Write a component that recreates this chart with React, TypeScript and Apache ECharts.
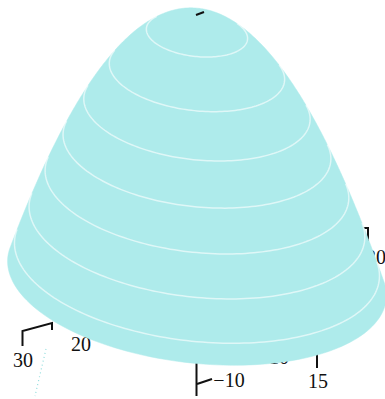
import React, { useEffect, useRef } from "react";
import * as echarts from "echarts";

// Paraboloid z = PEAK - (x² + y²) / SPREAD, cut off by a flat base at BASE_LEVEL
const PEAK = 15;
const SPREAD = 14;
const BASE_LEVEL = 1;
const contourLevels = [14, 12, 10, 8, 6, 4, 2];

// Axis tick labels (some sit behind the surface)
const tickLabels = ["30", "20", "\u221210", "10", "15", "20"];
const tickLabelPos: number[][] = [
  [23, 360],
  [81, 344],
  [229, 380],
  [279, 357],
  [318, 381],
  [376, 257],
];

// Camera: orthographic view from above, with a slight perspective-like shear
const SIN_ELEV = 0.45;
const Z_SCALE = 1.39;
const SHEAR = 0.09;

// View-plane window (x to the right, y downwards)
const VIEW_X = [-14.56, 13.9];
const VIEW_Y = [-1.11, 28.38];

const SURFACE = "#aeebeb";
const CONTOUR = "rgba(255,255,255,0.6)";

const radiusAt = (z: number) => Math.sqrt(Math.max(0, (PEAK - z) * SPREAD));

function project(r: number, phi: number, z: number): number[] {
  const vx = r * Math.cos(phi);
  const vy = (PEAK - z) * Z_SCALE + r * Math.sin(phi) * SIN_ELEV + SHEAR * vx;
  return [vx, vy];
}

// Outline of the solid: convex hull of every horizontal slice
function surfaceOutline(): number[][] {
  const pts: number[][] = [];
  const nz = 140;
  const nphi = 180;
  for (let i = 0; i <= nz; i++) {
    const z = PEAK - ((PEAK - BASE_LEVEL) * i) / nz;
    const r = radiusAt(z);
    for (let j = 0; j < nphi; j++) {
      pts.push(project(r, (2 * Math.PI * j) / nphi, z));
    }
  }
  pts.sort((a, b) => a[0] - b[0] || a[1] - b[1]);
  const cross = (o: number[], a: number[], b: number[]) =>
    (a[0] - o[0]) * (b[1] - o[1]) - (a[1] - o[1]) * (b[0] - o[0]);
  const lower: number[][] = [];
  for (const p of pts) {
    while (lower.length >= 2 && cross(lower[lower.length - 2], lower[lower.length - 1], p) <= 0) lower.pop();
    lower.push(p);
  }
  const upper: number[][] = [];
  for (let i = pts.length - 1; i >= 0; i--) {
    const p = pts[i];
    while (upper.length >= 2 && cross(upper[upper.length - 2], upper[upper.length - 1], p) <= 0) upper.pop();
    upper.push(p);
  }
  upper.pop();
  lower.pop();
  return lower.concat(upper);
}

// Front-facing part of a contour circle
function contourArc(z: number): number[][] {
  const r = radiusAt(z);
  const limit = (SIN_ELEV * SPREAD) / (2 * Z_SCALE);
  const out: number[][] = [];
  let a0 = 0;
  let a1 = 2 * Math.PI;
  if (limit < r) {
    const a = Math.asin(limit / r);
    a0 = -a;
    a1 = Math.PI + a;
  }
  const n = 120;
  for (let i = 0; i <= n; i++) {
    out.push(project(r, a0 + ((a1 - a0) * i) / n, z));
  }
  return out;
}

export default function App() {
  const ref = useRef<HTMLDivElement>(null);

  useEffect(() => {
    if (!ref.current) return;
    const chart = echarts.init(ref.current, null, { renderer: "svg" });
    const outline = surfaceOutline();

    const labelFont = '20px "Liberation Serif", "Times New Roman", serif';
    const labels = tickLabels.map((t, i) => ({
      type: "text",
      z: 1,
      silent: true,
      x: tickLabelPos[i][0],
      y: tickLabelPos[i][1],
      style: {
        text: t,
        font: labelFont,
        fill: "#111",
        textAlign: "center",
        textVerticalAlign: "middle",
      },
    }));

    const tickStyle = { stroke: "#111", lineWidth: 2, fill: "none" };

    chart.setOption({
      animation: false,
      backgroundColor: "#ffffff",
      grid: { left: 0, right: 0, top: 0, bottom: 0 },
      xAxis: { type: "value", min: VIEW_X[0], max: VIEW_X[1], show: false },
      yAxis: { type: "value", inverse: true, min: VIEW_Y[0], max: VIEW_Y[1], show: false },
      graphic: [
        ...labels,
        {
          type: "polyline",
          z: 1,
          silent: true,
          shape: { points: [[22.5, 346], [22.5, 331], [52, 323], [52, 330]] },
          style: tickStyle,
        },
        {
          type: "polyline",
          z: 1,
          silent: true,
          shape: { points: [[196.5, 350], [196.5, 396]] },
          style: tickStyle,
        },
        {
          type: "polyline",
          z: 1,
          silent: true,
          shape: { points: [[197, 384], [212, 379]] },
          style: tickStyle,
        },
        {
          type: "polyline",
          z: 1,
          silent: true,
          shape: { points: [[317, 345], [317, 368]] },
          style: tickStyle,
        },
        {
          type: "polyline",
          z: 1,
          silent: true,
          shape: { points: [[363, 228], [368, 228], [368, 243]] },
          style: tickStyle,
        },
        {
          type: "line",
          z: 1,
          silent: true,
          shape: { x1: 46, y1: 349, x2: 35, y2: 396 },
          style: { stroke: "#8fdcdc", lineWidth: 1.2, lineDash: [1, 3] },
        },
        {
          type: "line",
          z: 10,
          silent: true,
          shape: { x1: 196, y1: 15, x2: 204, y2: 12 },
          style: { stroke: "#111", lineWidth: 2 },
        },
      ],
      series: [
        {
          type: "custom",
          coordinateSystem: "cartesian2d",
          z: 2,
          silent: true,
          data: [[0, 0]],
          renderItem: (_params: any, api: any) => ({
            type: "polygon",
            shape: { points: outline.map((p) => api.coord(p)) },
            style: { fill: SURFACE, stroke: SURFACE, lineWidth: 0.5 },
          }),
        },
        {
          type: "custom",
          coordinateSystem: "cartesian2d",
          z: 3,
          silent: true,
          data: contourLevels.map((z) => [z, 0]),
          renderItem: (_params: any, api: any) => {
            const z = api.value(0);
            return {
              type: "polyline",
              shape: { points: contourArc(z).map((p) => api.coord(p)) },
              style: { stroke: CONTOUR, lineWidth: 1.5, fill: "none" },
            };
          },
        },
      ],
    });

    return () => chart.dispose();
  }, []);

  return (
    <div
      ref={ref}
      style={{ position: "fixed", left: 0, top: 0, width: 385, height: 399 }}
    />
  );
}
